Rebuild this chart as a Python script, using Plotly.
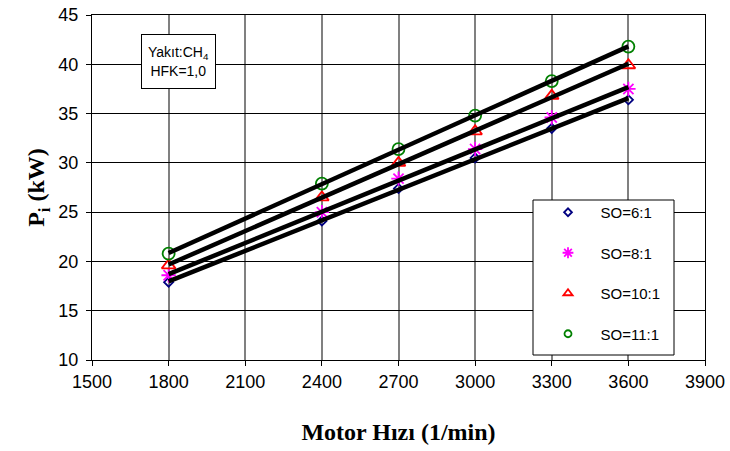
import numpy as np
import plotly.graph_objects as go

rpm = [1800, 2400, 2700, 3000, 3300, 3600]
so_6 = [17.9, 24.1, 27.4, 30.5, 33.5, 36.4]
so_8 = [18.6, 25.0, 28.4, 31.4, 34.6, 37.5]
so_10 = [19.6, 26.5, 30.0, 33.2, 36.8, 39.9]
so_11 = [20.8, 27.9, 31.4, 34.8, 38.3, 41.8]

names = ["SO=6:1", "SO=8:1", "SO=10:1", "SO=11:1"]
series = [so_6, so_8, so_10, so_11]
symbols = ["diamond-open", "asterisk-open", "triangle-up-open", "circle-open"]
colors = ["#000080", "#FF00FF", "#FF0000", "#008000"]
sizes = [7, 12, 12, 12]
leg_sizes = [6, 9, 8, 7]

x_ticks = [1500, 1800, 2100, 2400, 2700, 3000, 3300, 3600, 3900]
y_ticks = [10, 15, 20, 25, 30, 35, 40, 45]

W, H = 730, 451
ML, MR, MT, MB = 92, 25, 15, 91
PW, PH = W - ML - MR, H - MT - MB


def px(xp):
    return (xp - ML) / PW


def py(yp):
    return (H - MB - yp) / PH


fig = go.Figure()

for nm, ys, sym, col, sz in zip(names, series, symbols, colors, sizes):
    fig.add_trace(go.Scatter(
        x=rpm, y=ys, mode="markers", showlegend=False,
        marker=dict(symbol=sym, size=sz, color=col, line=dict(color=col, width=1.8)),
    ))

xfit = np.array([rpm[0], rpm[-1]], dtype=float)
for ys in series:
    a, b = np.polyfit(rpm, ys, 1)
    fig.add_trace(go.Scatter(
        x=xfit, y=a * xfit + b, mode="lines", showlegend=False,
        line=dict(color="black", width=4.5),
    ))

for i, (nm, sym, col, sz) in enumerate(zip(names, symbols, colors, leg_sizes)):
    fig.add_trace(go.Scatter(
        x=[None], y=[None], mode="markers", name="\u00a0\u00a0\u00a0" + nm,
        legendgroup=f"g{i}",
        marker=dict(symbol=sym, size=sz, color=col, line=dict(color=col, width=1.8)),
    ))

# legend frame (opaque, hides the grid like the reference)
fig.add_shape(type="rect", xref="paper", yref="paper",
              x0=px(533), x1=px(674), y0=py(355), y1=py(200),
              line=dict(color="black", width=1), fillcolor="white", layer="above")

fig.add_annotation(
    x=px(178.5), y=py(61.5), xref="paper", yref="paper", showarrow=False,
    xanchor="center", yanchor="middle",
    text="Yakıt:CH<sub>4</sub><br>HFK=1,0",
    font=dict(family="Liberation Sans, Arial", size=14, color="black"),
    bgcolor="white", bordercolor="black", borderwidth=1,
    width=71, height=51, align="center",
)

fig.update_layout(
    width=W, height=H,
    margin=dict(l=ML, r=MR, t=MT, b=MB),
    paper_bgcolor="white", plot_bgcolor="white",
    font=dict(family="Liberation Sans, Arial", size=18, color="black"),
    legend=dict(
        x=px(548), y=py(196), xanchor="left", yanchor="top",
        borderwidth=0, bgcolor="rgba(0,0,0,0)",
        font=dict(family="Liberation Sans, Arial", size=15, color="black"),
        tracegroupgap=18,
    ),
)

fig.update_xaxes(
    range=[1500, 3900], tickvals=x_ticks, ticktext=[str(v) for v in x_ticks],
    showgrid=True, gridcolor="#808080", gridwidth=2,
    showline=True, linecolor="black", linewidth=1, mirror=True,
    ticks="outside", ticklen=5, tickcolor="black", zeroline=False,
    automargin=False, ticklabeloverflow="allow",
    title=dict(text="<b>Motor Hızı (1/min)</b>",
               font=dict(family="Liberation Serif, Times New Roman", size=24),
               standoff=32),
)
fig.update_yaxes(
    range=[10, 45], tickvals=y_ticks, ticktext=[str(v) for v in y_ticks],
    showgrid=True, gridcolor="black", gridwidth=1,
    showline=True, linecolor="black", linewidth=1, mirror=True,
    ticks="outside", ticklen=5, tickcolor="black", zeroline=False,
    automargin=False, ticklabeloverflow="allow",
    ticklabelstandoff=4,
    title=dict(text="<b>P<sub>i</sub> (kW)</b>",
               font=dict(family="Liberation Serif, Times New Roman", size=24),
               standoff=6),
)

fig.write_html("out.html")
